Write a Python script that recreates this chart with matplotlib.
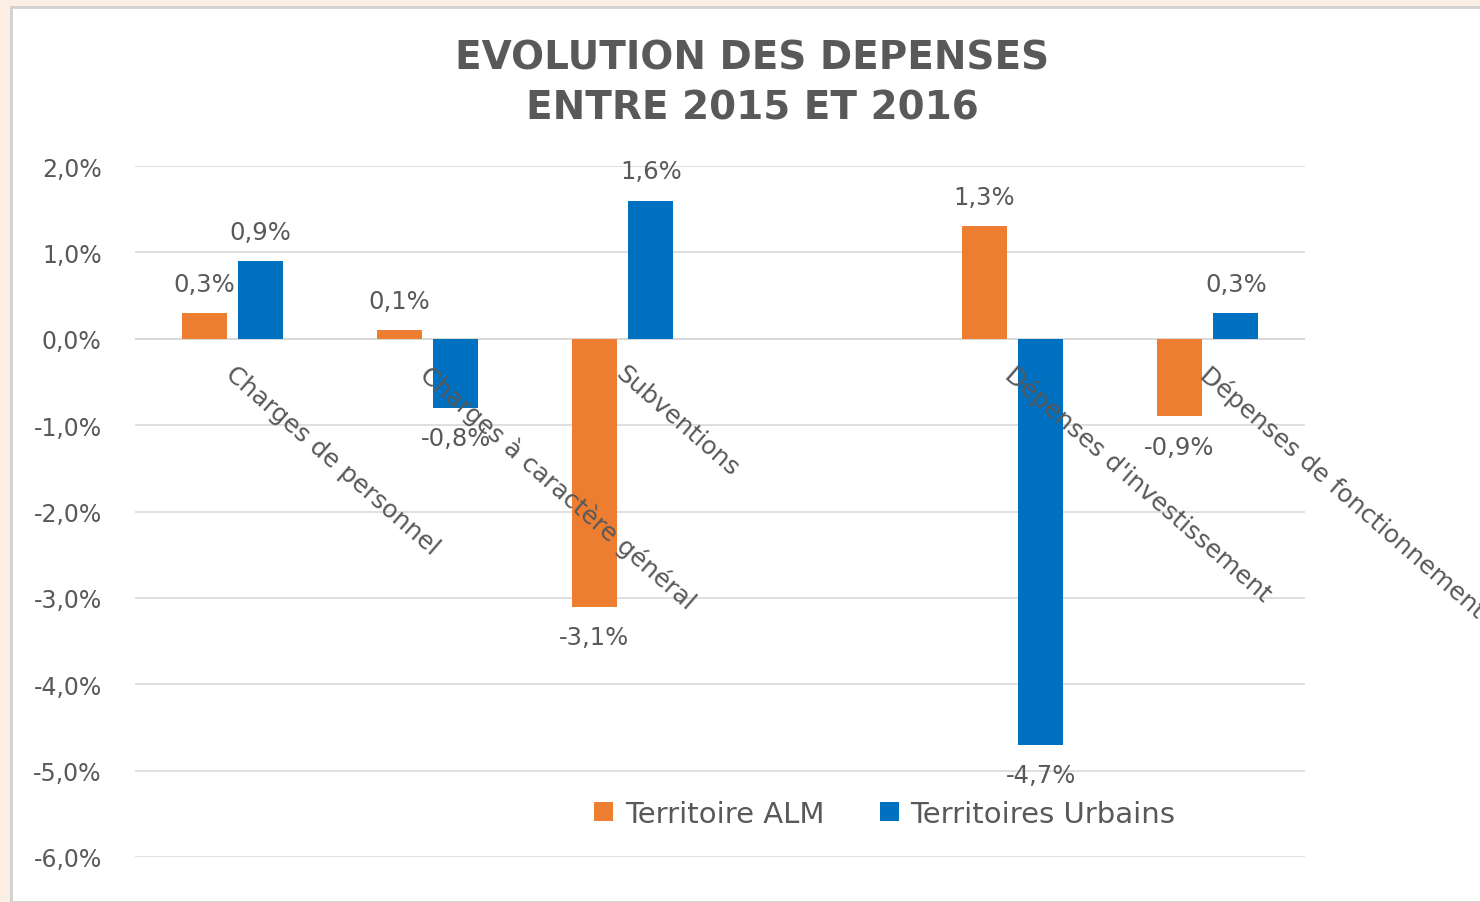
import matplotlib.pyplot as plt
import matplotlib.patches as mpatches
from matplotlib.ticker import FuncFormatter
import numpy as np

# Données (en %)
categories = ["Charges de personnel", "Charges à caractère général", "Subventions",
              "", "Dépenses d'investissement", "Dépenses de fonctionnement"]
territoire_alm = [0.3, 0.1, -3.1, np.nan, 1.3, -0.9]
territoires_urbains = [0.9, -0.8, 1.6, np.nan, -4.7, 0.3]
series_noms = ["Territoire ALM", "Territoires Urbains"]
yticks = [2, 1, 0, -1, -2, -3, -4, -5, -6]

orange = "#ED7D31"
bleu = "#0070C0"
gris_texte = "#595959"
gris_grille = "#D9D9D9"

W, H = 1480, 903
fig = plt.figure(figsize=(W / 100, H / 100), dpi=100)
fig.patch.set_facecolor("#FBEEE4")

# Fond blanc du graphique (cadre)
cadre = mpatches.Rectangle((11 / W, 0), 1, 1 - 8 / H, transform=fig.transFigure,
                           facecolor="white", edgecolor="#D0D0D0", linewidth=2, zorder=-10)
fig.patches.append(cadre)

ax = fig.add_axes([135 / W, 1 - 858 / H, (1305 - 135) / W, (858 - 167) / H])
ax.set_facecolor("none")
ax.set_zorder(2)

x = np.arange(len(categories))
largeur = 0.23
decalage = 0.145
b1 = ax.bar(x - decalage, territoire_alm, largeur, color=orange, label=series_noms[0], zorder=3)
b2 = ax.bar(x + decalage, territoires_urbains, largeur, color=bleu, label=series_noms[1], zorder=3)

ax.set_xlim(-0.5, len(categories) - 0.5)
ax.set_ylim(-6, 2)
ax.set_yticks(yticks)
ax.yaxis.set_major_formatter(FuncFormatter(lambda v, p: f"{v:.1f}%".replace(".", ",")))
ax.tick_params(axis="y", length=0, pad=24, labelsize=17, labelcolor=gris_texte)
ax.set_xticks([])
ax.grid(axis="y", color=gris_grille, linewidth=1.2, zorder=0)
ax.axhline(0, color=gris_grille, linewidth=1.4, zorder=2)
for s in ax.spines.values():
    s.set_visible(False)

# Étiquettes de données
for barres, valeurs in [(b1, territoire_alm), (b2, territoires_urbains)]:
    for rect, v in zip(barres, valeurs):
        if np.isnan(v):
            continue
        cx = rect.get_x() + rect.get_width() / 2
        dy = 21 if v >= 0 else -22
        ax.annotate(f"{v:.1f}%".replace(".", ","), (cx, v), xytext=(0, dy),
                    textcoords="offset points", ha="center", va="center",
                    fontsize=17.5, color=gris_texte, zorder=5, annotation_clip=False)

# Libellés des catégories, inclinés, sur l'axe zéro
for i, nom in enumerate(categories):
    if not nom:
        continue
    ax.annotate(nom, (i, 0), xytext=(3, -16), textcoords="offset points",
                ha="left", va="top", rotation=-41, rotation_mode="anchor",
                fontsize=18, color=gris_texte, zorder=6, annotation_clip=False)

# Titre
fig.text(752 / W, 1 - 59 / H, "EVOLUTION DES DEPENSES", ha="center", va="center",
         fontsize=28, fontweight="bold", color=gris_texte)
fig.text(752 / W, 1 - 109 / H, "ENTRE 2015 ET 2016", ha="center", va="center",
         fontsize=28, fontweight="bold", color=gris_texte)

# Légende
ax.legend(loc="center", bbox_to_anchor=((885 - 135) / 1170, (858 - 815) / 691),
          ncol=2, frameon=False, fontsize=21, labelcolor=gris_texte,
          handlelength=0.65, handleheight=0.65, handletextpad=0.4, columnspacing=1.9)

fig.savefig("out.png", dpi=100, facecolor=fig.get_facecolor())
